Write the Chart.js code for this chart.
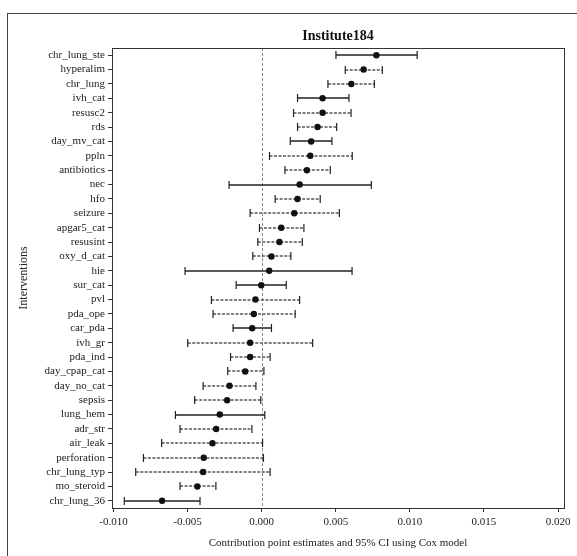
<!DOCTYPE html>
<html>
<head>
<meta charset="utf-8">
<script src="https://cdn.jsdelivr.net/npm/chart.js@4.4.1/dist/chart.umd.min.js"></script>
<style>
  html, body { margin: 0; padding: 0; background: #fff; }
  #wrap { position: relative; width: 577px; height: 556px; overflow: hidden; }
  #frame { position: absolute; left: 7px; top: 13px; width: 600px; height: 600px; border: 1px solid #444; box-sizing: border-box; pointer-events: none; }
  canvas { position: absolute; left: 0; top: 0; }
</style>
</head>
<body>
<div id="wrap">
  <canvas id="chart" width="577" height="556"></canvas>
  <div id="frame"></div>
</div>
<script>
// Intervenciones (de arriba a abajo)
const interventions = [
  'chr_lung_ste', 'hyperalim', 'chr_lung', 'ivh_cat', 'resusc2', 'rds', 'day_mv_cat', 'ppln',
  'antibiotics', 'nec', 'hfo', 'seizure', 'apgar5_cat', 'resusint', 'oxy_d_cat', 'hie',
  'sur_cat', 'pvl', 'pda_ope', 'car_pda', 'ivh_gr', 'pda_ind', 'day_cpap_cat', 'day_no_cat',
  'sepsis', 'lung_hem', 'adr_str', 'air_leak', 'perforation', 'chr_lung_typ', 'mo_steroid', 'chr_lung_36'
];

// Estimaciones puntuales
const estimates = [
  0.00774, 0.00688, 0.00605, 0.00411, 0.00411, 0.00377, 0.00334, 0.00328,
  0.00305, 0.00256, 0.00242, 0.00220, 0.00132, 0.00120, 0.00066, 0.00051,
  -0.00003, -0.00042, -0.00053, -0.00064, -0.00078, -0.00078, -0.00111, -0.00217,
  -0.00233, -0.00283, -0.00307, -0.00332, -0.00391, -0.00395, -0.00434, -0.00672
];

// Límite inferior del IC 95%
const lowerCI = [
  0.00501, 0.00564, 0.00447, 0.00242, 0.00215, 0.00242, 0.00193, 0.00053,
  0.00157, -0.00220, 0.00091, -0.00078, -0.00015, -0.00026, -0.00060, -0.00517,
  -0.00172, -0.00339, -0.00328, -0.00193, -0.00499, -0.00210, -0.00229, -0.00395,
  -0.00452, -0.00582, -0.00551, -0.00675, -0.00798, -0.00850, -0.00551, -0.00927
];

// Límite superior del IC 95%
const upperCI = [
  0.01049, 0.00814, 0.00760, 0.00589, 0.00603, 0.00506, 0.00474, 0.00611,
  0.00463, 0.00740, 0.00395, 0.00524, 0.00285, 0.00274, 0.00197, 0.00610,
  0.00166, 0.00256, 0.00226, 0.00066, 0.00344, 0.00057, 0.00015, -0.00039,
  -0.00006, 0.00021, -0.00066, 0.00006, 0.00012, 0.00057, -0.00309, -0.00416
];

// Filas dibujadas con línea discontinua
const dashedRows = [
  'hyperalim', 'chr_lung', 'resusc2', 'rds', 'ppln', 'antibiotics', 'hfo', 'seizure',
  'apgar5_cat', 'resusint', 'oxy_d_cat', 'pvl', 'pda_ope', 'ivh_gr', 'pda_ind',
  'day_cpap_cat', 'day_no_cat', 'sepsis', 'adr_str', 'air_leak', 'perforation',
  'chr_lung_typ', 'mo_steroid'
];

// Marcas del eje x
const xTicks = [-0.010, -0.005, 0.000, 0.005, 0.010, 0.015, 0.020];

const serif = '"Liberation Serif", "DejaVu Serif", serif';

// Plugin: barras de error, línea en cero, marco y título
const forestPlugin = {
    id: 'forest',
    beforeDatasetsDraw(chart) {
        const { ctx, chartArea: a, scales: { x, y } } = chart;
        ctx.save();

        // Línea vertical en 0
        const x0 = Math.round(x.getPixelForValue(0)) + 0.5;
        ctx.strokeStyle = '#888';
        ctx.lineWidth = 1;
        ctx.setLineDash([3, 2]);
        ctx.beginPath();
        ctx.moveTo(x0, a.top);
        ctx.lineTo(x0, a.bottom);
        ctx.stroke();

        // Intervalos de confianza
        interventions.forEach((name, i) => {
            const py = Math.round(y.getPixelForValue(i));
            const x1 = x.getPixelForValue(lowerCI[i]);
            const x2 = x.getPixelForValue(upperCI[i]);
            const dashed = dashedRows.includes(name);
            ctx.strokeStyle = dashed ? '#555' : '#222';
            ctx.lineWidth = 1.5;
            ctx.setLineDash(dashed ? [3, 1.5] : []);
            ctx.beginPath();
            ctx.moveTo(x1, py);
            ctx.lineTo(x2, py);
            ctx.stroke();
            ctx.setLineDash([]);
            ctx.strokeStyle = '#222';
            ctx.lineWidth = 1.2;
            ctx.beginPath();
            ctx.moveTo(x1, py - 4);
            ctx.lineTo(x1, py + 4);
            ctx.moveTo(x2, py - 4);
            ctx.lineTo(x2, py + 4);
            ctx.stroke();
        });
        ctx.restore();
    },
    afterDraw(chart) {
        const { ctx, chartArea: a } = chart;
        ctx.save();
        ctx.strokeStyle = '#333';
        ctx.lineWidth = 1;
        ctx.strokeRect(Math.round(a.left) + 0.5, Math.round(a.top) + 0.5,
            Math.round(a.right - a.left), Math.round(a.bottom - a.top));

        ctx.fillStyle = '#111';
        ctx.font = 'bold 14px ' + serif;
        ctx.textAlign = 'center';
        ctx.textBaseline = 'middle';
        ctx.fillText('Institute184', (a.left + a.right) / 2, 36);
        ctx.restore();
    }
};

const ctx = document.getElementById('chart').getContext('2d');

new Chart(ctx, {
    type: 'line',
    data: {
        labels: interventions,
        datasets: [{
            label: 'Estimación',
            data: estimates,
            showLine: false,
            pointRadius: 3.2,
            pointHoverRadius: 3.2,
            pointBackgroundColor: '#111',
            pointBorderColor: '#111',
            pointBorderWidth: 0
        }]
    },
    options: {
        indexAxis: 'y',
        responsive: false,
        animation: false,
        devicePixelRatio: 1,
        layout: {
            padding: { left: 8, top: 48, right: 13, bottom: 0 }
        },
        plugins: {
            legend: { display: false },
            tooltip: { enabled: false }
        },
        scales: {
            x: {
                type: 'linear',
                min: -0.0101,
                max: 0.0204,
                afterBuildTicks(scale) {
                    scale.ticks = xTicks.map(v => ({ value: v }));
                },
                afterFit(scale) {
                    scale.height = 48;
                },
                grid: {
                    display: true,
                    drawOnChartArea: false,
                    drawTicks: true,
                    tickLength: 4,
                    color: '#333'
                },
                border: { display: true, color: '#333' },
                ticks: {
                    padding: 4,
                    color: '#222',
                    font: { family: serif, size: 11 },
                    callback: v => v.toFixed(3)
                },
                title: {
                    display: true,
                    text: 'Contribution point estimates and 95% CI using Cox model',
                    color: '#222',
                    font: { family: serif, size: 11 },
                    padding: { top: 0, bottom: 6 }
                }
            },
            y: {
                type: 'category',
                offset: true,
                afterFit(scale) {
                    scale.width = 104;
                },
                grid: {
                    display: true,
                    drawOnChartArea: false,
                    drawTicks: true,
                    tickLength: 4,
                    color: '#333',
                    offset: false
                },
                border: { display: true, color: '#333' },
                ticks: {
                    padding: 3,
                    autoSkip: false,
                    color: '#222',
                    font: { family: serif, size: 11 }
                },
                title: {
                    display: true,
                    text: 'Interventions',
                    color: '#222',
                    font: { family: serif, size: 12 },
                    padding: { top: 9, bottom: 0 }
                }
            }
        }
    },
    plugins: [forestPlugin]
});
</script>
</body>
</html>
